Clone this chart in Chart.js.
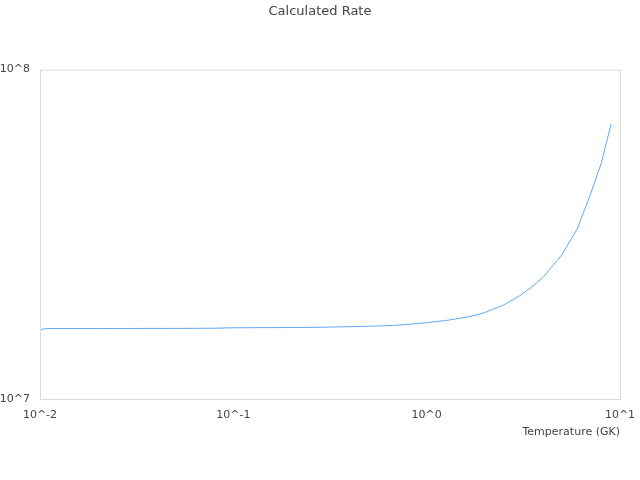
<!DOCTYPE html>
<html lang="en">
<head>
    <meta charset="UTF-8">
    <title>Calculated Rate</title>
    <style>
        html, body { margin: 0; padding: 0; background: #fff; }
    </style>
</head>
<body>
    <canvas id="rateCanvas" width="640" height="480"></canvas>

    <script src="https://cdn.jsdelivr.net/npm/chart.js"></script>
    <script>
        // temperatures (GK) and the rate read at each one
        var temps = [0.01, 0.011, 0.02, 0.05, 0.08, 0.1, 0.15, 0.2, 0.3, 0.4, 0.5, 0.6, 0.7, 0.8, 0.9,
                     1, 1.25, 1.5, 1.75, 2, 2.5, 3, 3.5, 4, 5, 6, 7, 8, 9];
        var rates = [1.625e7, 1.637e7, 1.637e7, 1.638e7, 1.640e7, 1.645e7, 1.647e7, 1.648e7, 1.652e7,
                     1.658e7, 1.663e7, 1.668e7, 1.675e7, 1.685e7, 1.695e7,
                     1.705e7, 1.73e7, 1.76e7, 1.79e7, 1.83e7, 1.93e7, 2.05e7, 2.19e7, 2.34e7,
                     2.74e7, 3.28e7, 4.15e7, 5.2e7, 6.84e7];
        var xTicks = [0.01, 0.1, 1, 10];
        var yTicks = [1e7, 1e8];

        var points = temps.map(function(t, i) { return {x: t, y: rates[i]}; });

        function powLabel(v) {
            return '10^' + Math.round(Math.log10(v));
        }

        // light grey box round the plot area
        var boxPlugin = {
            id: 'box',
            afterDraw: function(chart) {
                var a = chart.chartArea, c = chart.ctx;
                c.save();
                c.strokeStyle = '#d9d9d9';
                c.lineWidth = 1;
                c.strokeRect(a.left + 0.5, a.top + 0.5, a.right - a.left, a.bottom - a.top);
                c.restore();
            }
        };

        Chart.defaults.font.family = 'DejaVu Sans';
        Chart.defaults.font.size = 11;
        Chart.defaults.color = '#444';

        var ctx = document.getElementById('rateCanvas').getContext('2d');
        var rateChart = new Chart(ctx, {
            type: 'line',
            data: {
                datasets: [{
                    label: 'Rate',
                    data: points,
                    borderColor: '#62a8f0',
                    borderWidth: 1,
                    pointRadius: 0,
                    tension: 0,
                    fill: false
                }]
            },
            options: {
                responsive: false,
                animation: false,
                devicePixelRatio: 1,
                layout: { padding: { left: 0, right: 0, top: 0, bottom: 41 } },
                plugins: {
                    legend: { display: false },
                    tooltip: { enabled: false },
                    title: {
                        display: true,
                        text: 'Calculated Rate',
                        color: '#444',
                        font: { size: 13, weight: 'normal' },
                        padding: { top: 4, bottom: 50 }
                    }
                },
                scales: {
                    x: {
                        type: 'logarithmic',
                        min: 0.01,
                        max: 10,
                        afterBuildTicks: function(s) { s.ticks = xTicks.map(function(v) { return {value: v}; }); },
                        afterFit: function(s) { s.height = 40; s.paddingLeft = 0; s.paddingRight = 20; },
                        ticks: { callback: function(v) { return powLabel(v); }, maxRotation: 0, autoSkip: false, padding: 10 },
                        grid: { display: false, drawTicks: false },
                        border: { display: false },
                        title: { display: true, text: 'Temperature (GK)', align: 'end', color: '#444', padding: 0 }
                    },
                    y: {
                        type: 'logarithmic',
                        min: 1e7,
                        max: 1e8,
                        afterBuildTicks: function(s) { s.ticks = yTicks.map(function(v) { return {value: v}; }); },
                        afterFit: function(s) { s.width = 40; },
                        ticks: { callback: function(v) { return powLabel(v); }, padding: 10 },
                        grid: { display: false, drawTicks: false },
                        border: { display: false }
                    }
                }
            },
            plugins: [boxPlugin]
        });
    </script>
</body>
</html>
